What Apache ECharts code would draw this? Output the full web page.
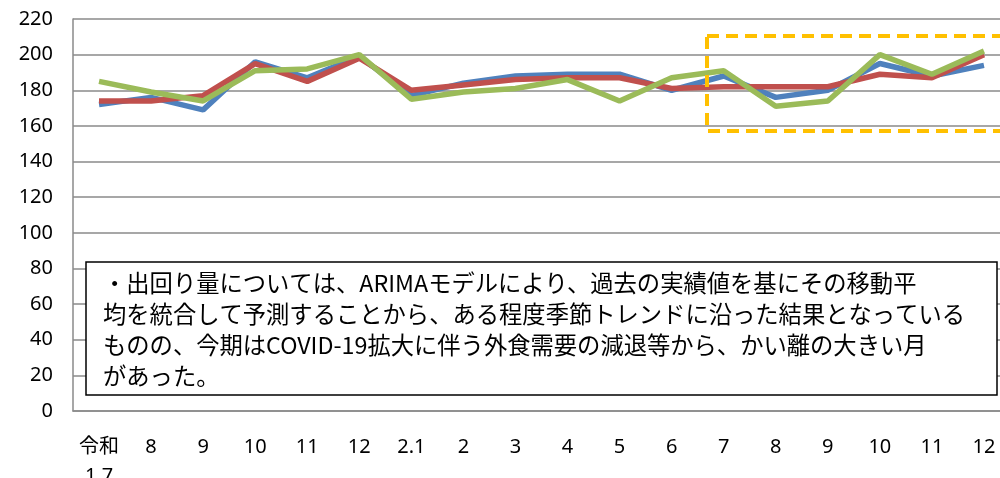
<!DOCTYPE html>
<html>
<head>
<meta charset="utf-8">
<script src="https://cdn.jsdelivr.net/npm/echarts@6/dist/echarts.min.js"></script>
<style>
  html, body { margin: 0; padding: 0; background: #fff; }
  #chart { width: 1000px; height: 478px; }
</style>
</head>
<body>
<div id="chart"></div>
<script>
// 月（令和1.7〜2.12）
var months = ['令和\n1.7', '8', '9', '10', '11', '12', '2.1', '2', '3', '4', '5', '6', '7', '8', '9', '10', '11', '12'];
// 3系列（青・赤・緑）
var blueData  = [172, 176, 169, 196, 187, 199, 177, 184, 188, 189, 189, 180, 188, 176, 180, 195, 188, 194];
var redData   = [174, 174, 177, 195, 185, 198, 180, 183, 186, 187, 187, 181, 182, 182, 182, 189, 187, 200];
var greenData = [185, 179, 174, 191, 192, 200, 175, 179, 181, 186, 174, 187, 191, 171, 174, 200, 189, 202];

var noteLines = [
    '・出回り量については、ARIMAモデルにより、過去の実績値を基にその移動平',
    '均を統合して予測することから、ある程度季節トレンドに沿った結果となっている',
    'ものの、今期はCOVID-19拡大に伴う外食需要の減退等から、かい離の大きい月',
    'があった。'
];

var myChart = echarts.init(document.getElementById('chart'));

function lineSeries(data, color) {
    return {
        type: 'line',
        data: data,
        symbol: 'none',
        lineStyle: { color: color, width: 5.5 },
        animation: false
    };
}

var option = {
    animation: false,
    grid: { left: 73, top: 19, bottom: 67, width: 937, outerBoundsMode: 'none', containLabel: false },
    xAxis: {
        type: 'category',
        data: months,
        boundaryGap: true,
        axisLine: { lineStyle: { color: '#8a8a8a', width: 1.5 } },
        axisTick: { show: false },
        axisLabel: {
            color: '#000',
            fontSize: 20,
            fontFamily: 'Noto Sans, Noto Sans CJK JP',
            lineHeight: 29,
            margin: 22,
            interval: 0,
            hideOverlap: false
        }
    },
    yAxis: {
        type: 'value',
        min: 0,
        max: 220,
        interval: 20,
        axisLine: { show: true, lineStyle: { color: '#8a8a8a', width: 1.5 } },
        axisTick: { show: false },
        splitLine: { lineStyle: { color: '#8a8a8a', width: 1.5 } },
        axisLabel: {
            color: '#000',
            fontSize: 20,
            fontFamily: 'Noto Sans',
            margin: 20
        }
    },
    series: [
        lineSeries(blueData, '#4F81BD'),
        lineSeries(redData, '#C0504D'),
        lineSeries(greenData, '#9BBB59')
    ],
    graphic: [
        {
            type: 'rect',
            z: 100,
            shape: { x: 707, y: 36, width: 320, height: 95 },
            style: { fill: null, stroke: '#FFC000', lineWidth: 4, lineDash: [12, 7] }
        },
        {
            type: 'rect',
            z: 100,
            shape: { x: 86, y: 262, width: 911, height: 133 },
            style: { fill: '#fff', stroke: '#000', lineWidth: 1.5 }
        },
        {
            type: 'text',
            z: 101,
            x: 103,
            y: 268,
            style: {
                text: noteLines.join('\n'),
                fill: '#000',
                fontSize: 23.3,
                lineHeight: 31,
                fontFamily: 'Noto Sans CJK JP'
            }
        }
    ]
};

myChart.setOption(option);
</script>
</body>
</html>
